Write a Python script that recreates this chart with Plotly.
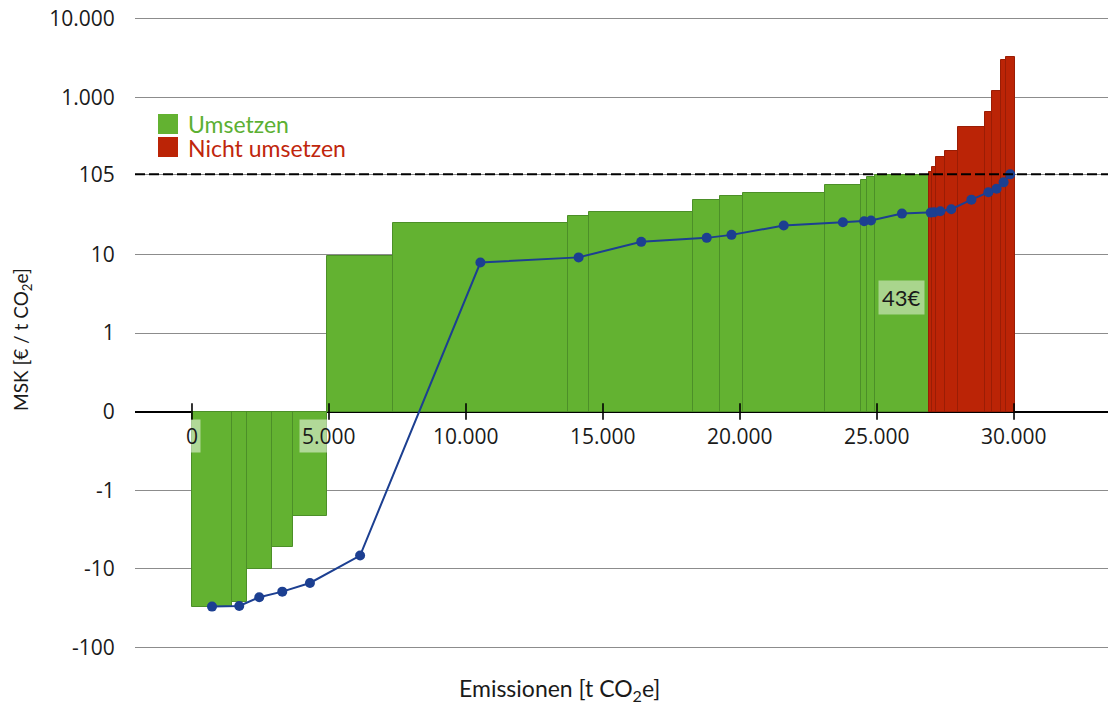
import numpy as np
import plotly.graph_objects as go

# ---------------- data ----------------
# abatement amount of each measure [t CO2e] (bar widths, in order)
amounts = [1460, 530, 930, 750, 1270, 2390, 6390, 780, 3790, 990, 820, 2990,
           1330, 220, 280, 1980, 120, 130, 320, 480, 990, 250, 350, 160, 320]
# marginal cost of each measure [EUR / t CO2e]
msk = [-30.7, -26.3, -10, -5.25, -2.14, 9.7, 25.2, 31.3, 35.2, 50, 56.4, 61.5,
       77.7, 88, 98, 103, 112, 130, 176, 206, 420, 659, 1222, 3020, 3268]
# blue line values at the measure midpoints
line_vals = [-30.4, -29.8, -23.1, -19.6, -15.2, -6.8, 7.9, 9.2, 14.5, 16.3, 17.8,
             23.4, 25.8, 26.5, 27.1, 33.2, 34.2, 34.6, 35.6, 37.7, 50, 62, 69, 83, 105]
threshold = 105
y_tick_vals = [-100, -10, -1, 0, 1, 10, 105, 1000, 10000]
y_tick_text = ["-100", "-10", "-1", "0", "1", "10", "105", "1.000", "10.000"]
x_tick_vals = [0, 5000, 10000, 15000, 20000, 25000, 30000]
x_tick_text = ["0", "5.000", "10.000", "15.000", "20.000", "25.000", "30.000"]
annot_text = "43€"


def f(v):
    """symmetric log-like transform: one unit per decade, linear in [-1, 1]"""
    v = np.asarray(v, dtype=float)
    a = np.abs(v)
    return np.where(a >= 1, np.sign(v) * (np.log10(np.maximum(a, 1e-12)) + 1), v)


amounts_a = np.array(amounts, dtype=float)
ends = np.cumsum(amounts_a)
starts = ends - amounts_a
mids = (starts + ends) / 2
msk_a = np.array(msk, dtype=float)
green = msk_a <= threshold
red = ~green

GREEN = "#63b231"
RED = "#bb2406"
BLUE = "#1c3f91"
TXT = "#1a1a1a"

fig = go.Figure()
fig.add_trace(go.Bar(
    x=mids[green], y=f(msk_a[green]), width=amounts_a[green], name="Umsetzen",
    marker=dict(color=GREEN, line=dict(color="#4c8f28", width=1), opacity=1),
    showlegend=False, hoverinfo="skip"))
fig.add_trace(go.Bar(
    x=mids[red], y=f(msk_a[red]), width=amounts_a[red], name="Nicht umsetzen",
    marker=dict(color=RED, line=dict(color="#9a1d05", width=1), opacity=1),
    showlegend=False, hoverinfo="skip"))
# x-axis tick marks crossing the zero line
fig.add_trace(go.Scatter(
    x=x_tick_vals, y=[0] * len(x_tick_vals), mode="markers",
    marker=dict(symbol="line-ns", size=12, line=dict(width=1.6, color="black")),
    showlegend=False, hoverinfo="skip"))
fig.add_trace(go.Scatter(
    x=mids, y=f(line_vals), mode="lines+markers",
    line=dict(color=BLUE, width=2), marker=dict(color=BLUE, size=10),
    showlegend=False, hoverinfo="skip"))

annotations = []
for v, t in zip(x_tick_vals, x_tick_text):
    annotations.append(dict(
        x=v, y=0, xref="x", yref="y", text=t, showarrow=False,
        xanchor="center", yanchor="middle", yshift=-24,
        bgcolor="rgba(255,255,255,0.5)", borderpad=2,
        font=dict(family="Open Sans", size=21, color=TXT)))

annotations.append(dict(
    x=mids[15], y=1.457, xref="x", yref="y", text=annot_text, showarrow=False,
    xanchor="center", yanchor="middle",
    bgcolor="rgba(255,255,255,0.45)", borderpad=3,
    font=dict(family="Lato", size=22, color=TXT)))

H0, PH, L0, PW = 659.0, 644.0, 135.0, 973.0


def px(xp):
    return (xp - L0) / PW


def py(yp):
    return (H0 - yp) / PH


annotations += [
    dict(x=px(187), y=py(124), xref="paper", yref="paper", text="Umsetzen",
         showarrow=False, xanchor="left", yanchor="middle", borderpad=0,
         font=dict(family="Lato", size=23, color="#5cb033")),
    dict(x=px(187), y=py(148), xref="paper", yref="paper", text="Nicht umsetzen",
         showarrow=False, xanchor="left", yanchor="middle", borderpad=0,
         font=dict(family="Lato", size=23, color="#c0260c")),
    dict(x=px(22), y=py(340), xref="paper", yref="paper",
         text="MSK [€ / t CO<sub>2</sub>e]", showarrow=False, textangle=-90,
         xanchor="center", yanchor="middle",
         font=dict(family="Lato", size=19, color=TXT)),
    dict(x=px(559), y=py(690), xref="paper", yref="paper",
         text="Emissionen [t CO<sub>2</sub>e]", showarrow=False,
         xanchor="center", yanchor="middle",
         font=dict(family="Lato", size=23, color=TXT)),
]

shapes = [
    dict(type="line", xref="paper", yref="y", x0=0, x1=1,
         y0=float(f(threshold)), y1=float(f(threshold)),
         line=dict(color="black", width=2, dash="10px,4px"), layer="above"),
    dict(type="rect", xref="paper", yref="paper", x0=px(158), x1=px(178),
         y0=py(134), y1=py(114), fillcolor=GREEN, line=dict(width=0)),
    dict(type="rect", xref="paper", yref="paper", x0=px(158), x1=px(178),
         y0=py(157), y1=py(137), fillcolor=RED, line=dict(width=0)),
]

fig.update_layout(
    width=1113, height=706,
    margin=dict(l=135, r=5, t=15, b=47),
    plot_bgcolor="white", paper_bgcolor="white",
    barmode="overlay", bargap=0,
    annotations=annotations, shapes=shapes,
    xaxis=dict(range=[-2080, 33430], showticklabels=False, showgrid=False,
               zeroline=False, showline=False, ticks=""),
    yaxis=dict(range=[-3.15, 5.05], tickmode="array",
               tickvals=[float(v) for v in f(y_tick_vals)], ticktext=y_tick_text,
               showgrid=True, gridcolor="#8c8c8c", gridwidth=1,
               zeroline=True, zerolinecolor="black", zerolinewidth=2,
               showline=False, ticks="outside", ticklen=15,
               tickcolor="rgba(0,0,0,0)",
               tickfont=dict(family="Open Sans", size=21, color=TXT)),
)

fig.write_html("out.html", config={"displayModeBar": False},
               post_script="document.body.style.margin='0';"
                           "document.body.style.padding='0';")
